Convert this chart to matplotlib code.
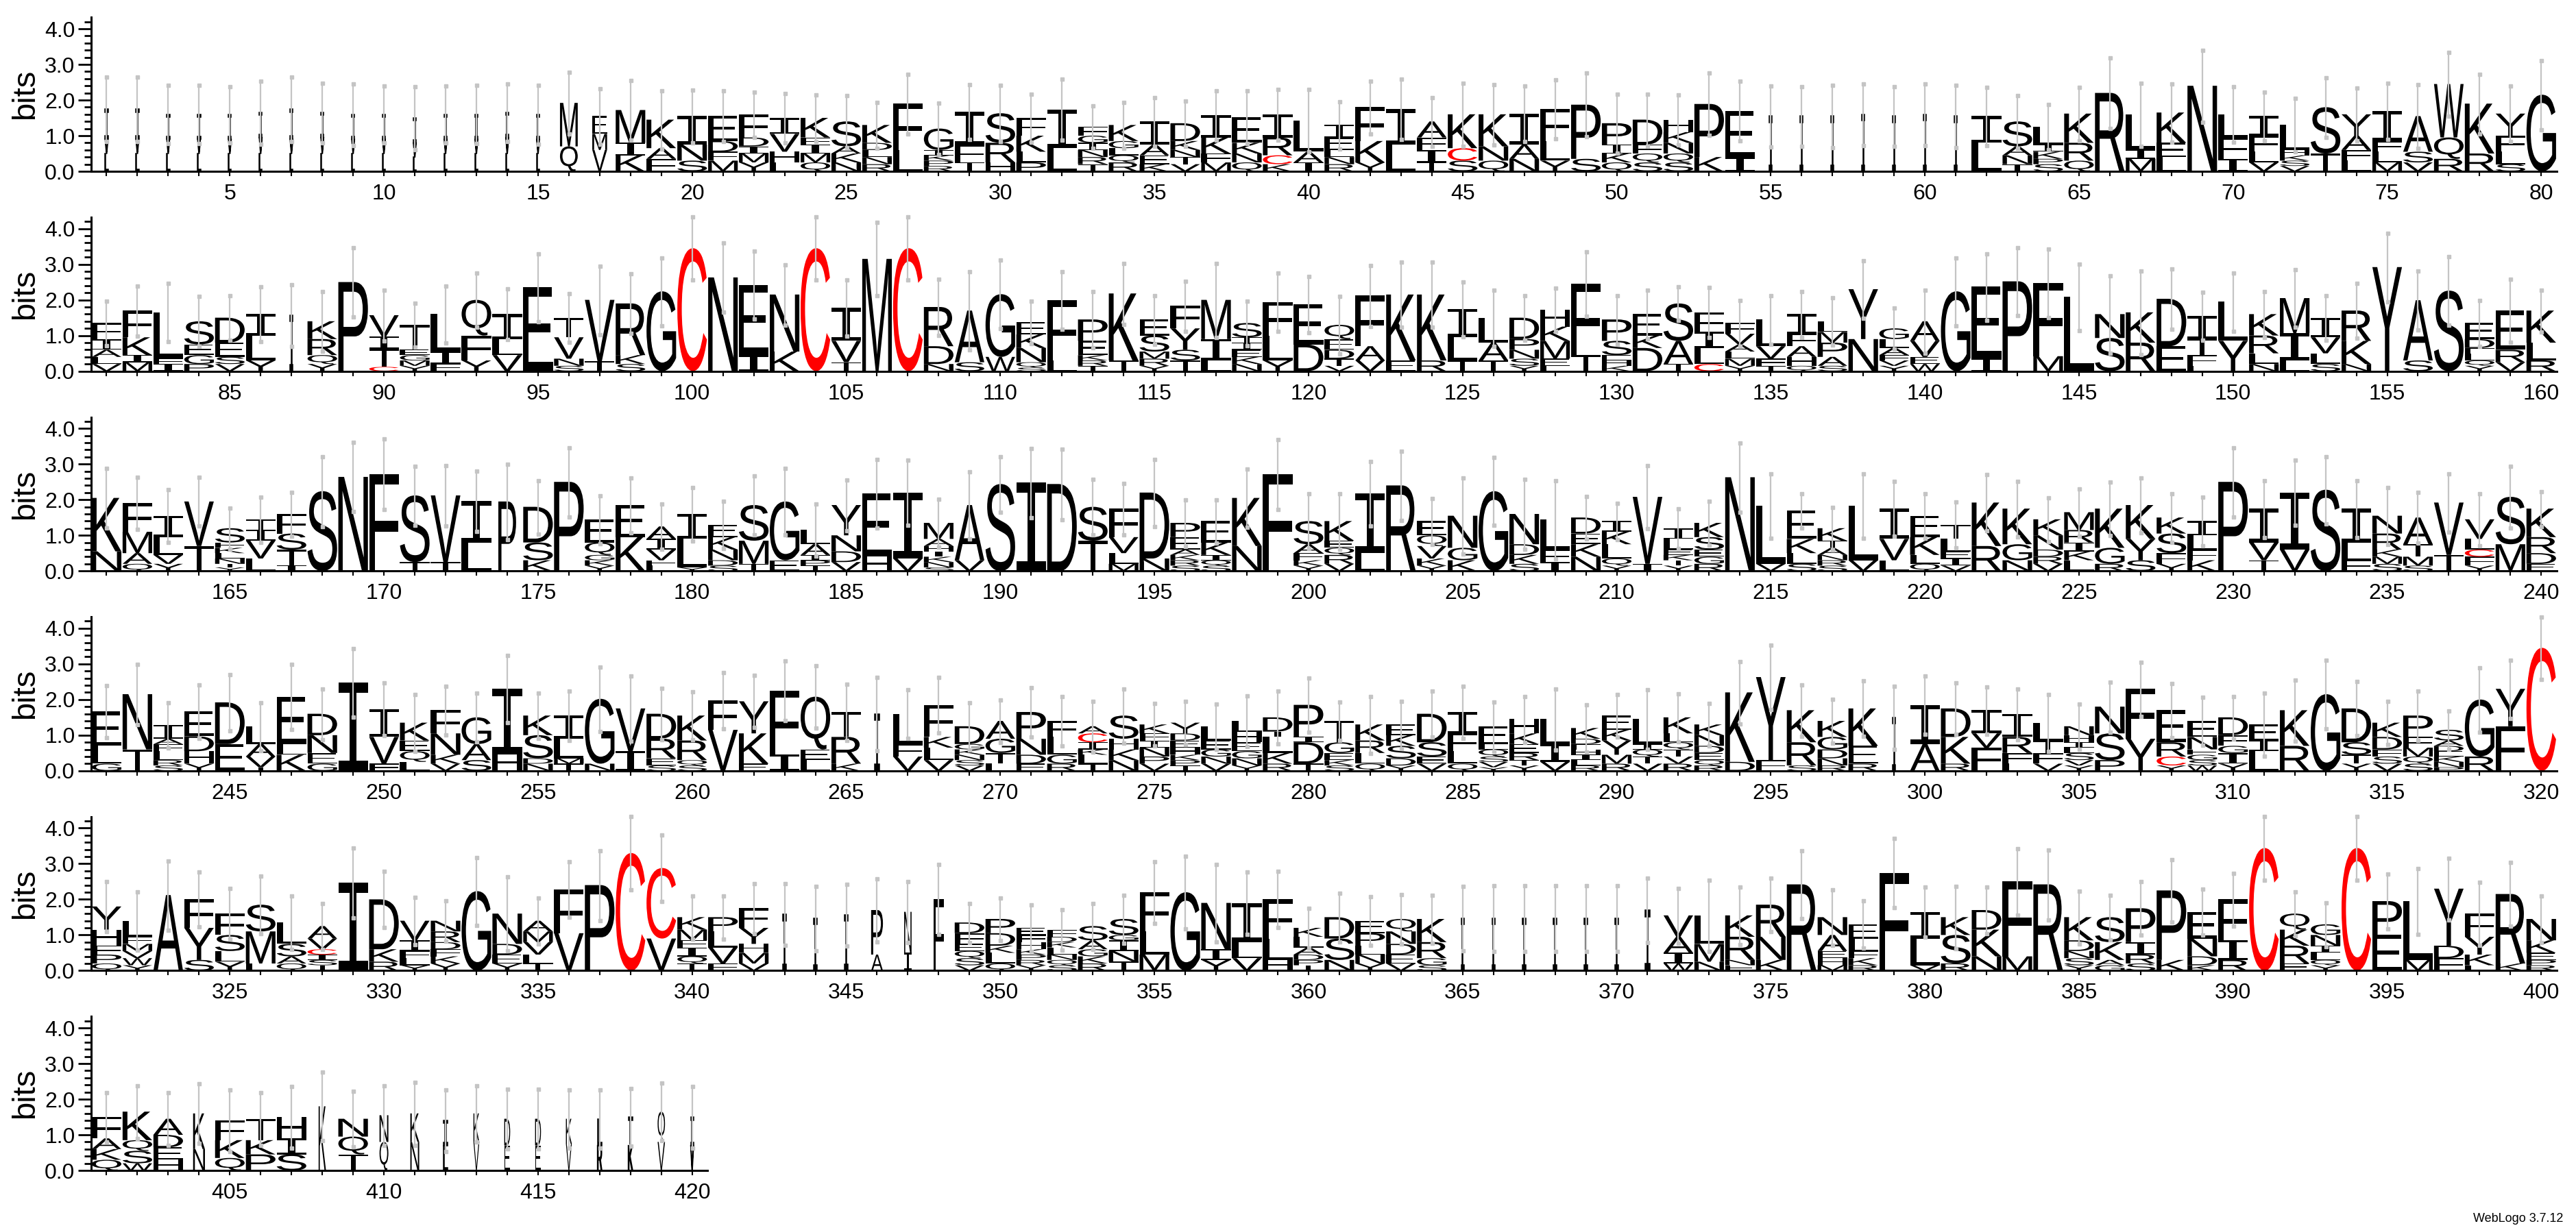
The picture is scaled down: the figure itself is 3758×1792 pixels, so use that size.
import matplotlib
matplotlib.use("Agg")
import matplotlib.pyplot as plt
import numpy as np
from matplotlib.textpath import TextPath
from matplotlib.font_manager import FontProperties
from matplotlib.path import Path
from matplotlib.patches import PathPatch

# Each stack: letters from bottom to top, letter followed by its height in bits
row1 = [
    "L.5 V.4 I.85", "L.5 V.4 I.85", "L.5 V.4 I.7", "L.5 V.4 I.7", "L.5 V.4 I.7",
    "L.5 V.45 I.7", "L.5 V.4 I.85", "L.5 V.45 I.7", "L.5 V.4 I.7", "L.5 V.4 I.7",
    "L.4 V.4 I.7", "L.5 V.4 I.7", "L.5 V.4 I.7", "L.5 V.45 I.7", "L.5 V.4 I.7",
    "Q.7 M1.22", "V.6 M.45 E.5", "K.45 I.35 M.92", "F.35 A.3 K.8", "S.3 N.45 I.8",
    "M.3 F.25 D.3 E.7", "Y.25 M.25 I.2 D.25 F.65", "L.25 H.3 V.5 I.45", "Q.25 M.25 I.25 F.2 K.55", "N.25 K.25 A.2 S.7",
    "R.2 N.2 L.2 D.2 K.5", "L.6 F1.3", "R.15 P.15 K.15 I.15 G.6", "T.25 F.5 I.92", "H.25 R.55 S.83",
    "P.25 L.3 K.45 F.5", "L.65 I1.09", "T.2 R.2 N.2 I.2 G.2 F.25", "R.25 Q.2 L.2 G.2 K.45", "K.2 E.25 A.3 I.65",
    "V.2 T.2 N.2 K.25 D.5", "M.25 F.25 K.45 I.63", "Q.25 N.25 K.3 E.72", "K.2 C.25 R.5 I.65", "I.25 A.3 L.88",
    "R.2 N.2 L.2 E.35 I.35", "Y.25 K.6 F.95", "L.75 I1.0", "T.25 I.35 F.35 A.45", "S.3 C.35 K.95",
    "Q.3 N.4 K.9", "N.35 A.4 I.87", "Y.3 L.55 F.9", "S.35 P1.52", "Q.25 K.25 I.25 P.6",
    "S.25 Q.25 F.25 D.7", "S.25 Q.25 N.3 K.3 H.35", "K.4 P1.49", "I.4 E1.3", "I1.55",
    "I1.55", "I1.55", "I1.6", "I1.55", "I1.6",
    "I1.55", "L.8 I.75", "T.2 N.25 A.25 S.7", "S.2 P.15 K.2 I.2 L.5", "Q.3 R.5 K.82",
    "R2.2", "M.35 I.25 L1.0", "L.4 E.4 K.85", "N2.4", "I.35 F.6 L.65",
    "V.25 L.3 F.45 I.55", "V.15 S.15 K.15 H.15 L.7", "T.5 S1.3", "L.3 F.3 A.4 Y.6", "M.25 L.3 F.3 I.85",
    "V.25 S.3 A1.0", "R.35 Q.6 W1.5", "R.5 K1.4", "S.2 L.35 F.45 Y.62", "G2.15",
]
row2 = [
    "V.2 L.2 A.2 I.3 F.45", "M.25 I.2 K.5 F.75", "I.2 F.15 L1.3", "P.2 G.25 E.3 S.65", "V.2 S.2 E.4 D.7",
    "Y.3 L.7 I.6", "I1.57", "Y.2 Q.25 R.45 K.5", "P2.5", "C.12 T.5 I.35 V.6",
    "Y.15 M.15 G.15 E.15 T.7", "F.2 I.35 L1.05", "Y.3 F.7 Q1.0", "V.45 L.45 I.7", "E2.35",
    "S.15 N.2 V.6 T.55", "T.28 V1.72", "S.2 K.25 R1.45", "G2.24", "C3.45",
    "N2.63", "I.45 E1.97", "K.55 N1.6", "C3.45", "T.25 V.6 I.93",
    "M3.15", "C3.45", "N.2 D.5 R1.1", "S.25 A1.45", "W.4 G1.76",
    "S.1 Q.15 N.4 K.38 E.35", "L.3 F1.69", "T.15 R.15 K.15 E.4 P.6", "T.3 K1.88", "Y.15 R.2 M.2 S.45 E.45",
    "T.3 S.3 Y.6 F.63", "L.3 I.6 M1.1", "N.2 K.2 E.2 I.2 T.15 S.4", "Y.3 L.7 F.94", "D.75 E1.13",
    "V.15 T.2 D.25 E.3 Q.4", "V.3 A.4 F1.42", "E.3 K1.85", "R.3 K1.85", "T.3 L.65 I.8",
    "T.3 A.5 L.7", "Y.15 S.2 N.25 P.3 D.6", "L.15 E.2 M.5 K.4 H.48", "T.45 F2.0", "K.15 H.15 E.15 S.4 P.6",
    "D.65 K.35 E.6", "T.2 A.65 S1.05", "C.2 L.45 I.45 F.55", "Y.15 M.2 L.2 A.2 V.3 F.3", "T.15 F.2 V.35 L.75",
    "Q.15 H.25 A.3 F.35 I.55", "S.15 A.25 P.4 M.3 L.3", "N.9 Y1.4", "Y.15 V.15 F.15 A.2 L.25 G.3", "W.2 E.2 V.45 A.55",
    "G2.24", "I.35 E2.02", "P2.52", "M.42 F2.06", "L2.08",
    "S.93 N.67", "R.8 K.85", "E.7 D1.33", "L.15 F.3 T.45 I.65", "Y.85 L1.1",
    "N.2 L.3 R.5 K.6", "L.3 I.77 M.98", "S.2 L.3 V.45 I.55", "N.2 K.65 R.85", "Y2.92",
    "S.3 A1.69", "S2.26", "Y.15 Q.15 L.2 F.15 D.25 E.45", "V.25 R.35 E1.1", "R.3 L.5 K.9",
]
row3 = [
    "N.55 K1.5", "Q.2 A.3 M.6 F.8", "Y.2 V.25 L.5 I.6", "T.7 V1.25", "Y.1 T.1 N.15 L.15 K.15 F.15 S.4",
    "L.35 V.5 I.3 T.3", "I.15 T.45 S.45 F.55", "S2.24", "N2.64", "F2.72",
    "T.25 S1.87", "T.25 V1.87", "L.8 I1.17", "P1.95", "K.3 S.5 D1.0",
    "P2.5", "Y.15 K.15 G.15 Q.35 E.65", "K.95 E.9", "L.15 F.15 V.3 I.3 A.35", "Y.1 L.8 I.7",
    "S.15 D.15 N.3 K.35 E.35", "T.2 M.65 S1.0", "E.3 G1.65", "T.15 P.15 I.15 A.3 L.4", "V.25 D.3 N.45 Y.85",
    "H.4 E1.78", "V.35 I1.85", "S.1 N.15 K.15 I.15 H.15 A.2 M.45", "V.3 A1.55", "S2.44",
    "I2.48", "D2.44", "T.85 S.95", "M.2 L.3 V.45 F.8", "N.35 D1.85",
    "S.15 R.15 K.15 A.15 E.35 P.4", "S.15 Q.15 I.15 K.35 E.6", "N.7 K1.35", "F2.72", "Y.15 K.15 F.2 A.25 S.65",
    "V.2 R.25 Q.2 E.2 K.55", "L.5 I1.68", "R2.4", "Y.15 K.2 V.35 Q.3 E.4", "K.3 G.35 N.9",
    "G2.24", "S.2 K.25 D.3 N.85", "I.25 F.35 L.85", "N.4 K.35 E.3 D.45", "Y.15 Q.2 L.4 K.35 I.3",
    "I.2 V1.88", "Y.15 T.15 K.15 E.15 L.3 I.3", "R.2 G.2 E.2 S.35 K.4", "N2.63", "V.2 L1.63",
    "S.2 L.3 K.4 E.8", "S.15 R.15 N.15 A.2 T.2 K.35", "V.3 L1.53", "L.3 V.6 I.85", "Q.2 L.25 K.5 E.6",
    "V.15 I.2 E.2 L.35 T.4", "R.7 K1.22", "N.3 G.45 K1.0", "V.2 R.2 D.2 N.4 K.45", "L.3 K.25 I.25 R.35 M.5",
    "R.2 G.45 K1.1", "S.3 Y.6 K.95", "Y.2 F.3 S.55 K.45", "K.3 F.3 L.4 I.4", "P2.5",
    "T.3 V.5 I.95", "V.6 I1.6", "S2.28", "F.3 L.5 I.95", "S.2 M.2 K.2 R.45 N.5",
    "S.15 M.25 T.35 A.75", "T.45 V1.47", "Y.15 F.25 C.2 L.3 V.55", "M.75 S1.33", "E.2 D.3 R.45 K.8",
]
row4 = [
    "G.2 L.5 E.97", "T.6 N1.55", "S.15 R.15 L.25 F.2 A.15 I.38", "Y.2 H.35 D.42 E.7", "E.75 D1.17",
    "T.1 V.3 A.35 L.5", "K.45 L.3 E1.33", "G.2 E.3 N.5 D.6", "I2.48", "F.2 V.75 I.78",
    "L.25 Q.3 E.3 K.5", "V.2 K.25 N.6 F.65", "S.3 A.45 G.75", "H.45 I1.85", "N.2 D.15 S.65 K.55",
    "T.2 M.15 L.55 I.65", "N.2 G1.82", "I.55 V1.2", "S.15 E.2 R.55 D.7", "S.15 Q.15 R.55 K.7",
    "V1.15 F.82", "E.2 K.85 Y.9", "I.45 F1.8", "L.3 E.3 Q1.48", "K.2 R.75 T.7",
    "I1.6", "V.4 F.35 L.85", "V.3 L.35 K.3 F.9", "V.15 S.15 N.15 K.15 G.15 D.5", "L.2 T.3 G.4 A.5",
    "E.2 D.25 N.45 P.75", "R.2 G.25 L.5 F.45", "T.2 L.25 K.15 I.2 C.25 A.2", "N.3 K.3 H.3 S.65", "V.2 P.2 N.25 I.2 F.2 K.25",
    "T.15 P.15 K.15 H.2 E.2 D.2 Y.3", "V.2 N.2 G.2 E.25 L.4", "Y.15 N.2 G.2 E.25 H.3 L.3", "R.2 K.3 L.45 I.15 D.4", "T.2 D.6 I.15 P.9",
    "S.15 K.15 E.2 G.3 T.6", "Q.2 L.3 R.35 K.45", "Y.15 D.2 S.35 K.3 E.3", "V.2 E.2 S.4 D.8", "Q.2 L.35 F.5 I.6",
    "Y.1 V.15 S.15 Q.2 L.15 E.5", "Y.15 T.15 R.2 E.25 K.3 H.4", "V.25 I.5 L.7", "R.15 L.15 I.15 H.15 F.15 D.15 K.3", "R.2 M.25 Y.4 K.3 E.4",
    "V.2 T.2 Q.2 I.15 L.7", "R.2 V.2 T.2 Q.2 L.25 K.45", "R.15 Q.15 E.2 D.2 N.3 K.3", "D.25 K1.95", "F.3 Y2.33",
    "S.15 R.65 K.9", "R.15 N.2 D.25 G.35 K.45", "R.2 E.5 K1.05", "I1.5", "A.75 I1.1",
    "R.2 K.75 D.8", "F.65 V.4 I.65", "L.2 F.3 R.45 I.65", "V.2 F.3 T.35 L.5", "Y.15 V.15 S.2 L.15 I.15 H.2 N.25",
    "P.3 S.75 N.75", "Y.9 F1.4", "Y.15 C.25 R.4 E.9", "W.15 S.15 G.15 F.15 N.35 E.45", "Y.2 I.3 G.2 F.3 D.5",
    "L.55 I.3 E.45", "R.7 K1.0", "G2.15", "Y.2 T.25 S.35 D.95", "V.2 S.2 F.2 D.35 K.4",
    "S.2 Q.2 M.25 F.3 P.6", "P.1 N.15 K.15 E.15 D.15 A.15 S.3", "R.4 G1.6", "F1.25 Y1.05", "C3.45",
]
row5 = [
    "Q.2 P.25 F.25 H.45 Y.65", "Y.15 W.2 V.2 M.2 F.2 L.45", "A2.12", "S.3 Y.9 F.8", "Y.25 L.3 S.45 F.6",
    "L.2 M.9 S.75", "Q.2 A.2 S.35 L.6", "T.15 S.15 I.15 C.15 V.3 A.35", "I2.47", "R.25 K.35 D1.4",
    "Y.15 L.2 F.2 I.3 V.55", "Y.2 K.2 F.2 D.2 R.3 N.3", "G2.23", "Y.2 E.25 D.3 N.85", "T.2 L.25 V.35 M.3 A.3",
    "V1.05 F1.23", "P2.4", "C3.3", "V.9 C1.98", "T.2 Q.2 I.25 F.2 M.3 K.35",
    "F.2 V.45 L.45 P.4", "V.2 M.3 H.25 Y.45 F.55", "I1.58", "I1.47", "I1.57",
    "A.45 P1.25", "I.5 N1.15", "F2.0", "V.15 S.2 Q.2 E.2 F.3 D.3", "Q.2 L.3 K.2 D.35 P.4",
    "Y.15 R.15 P.15 K.15 H.2 F.2 E.2", "S.15 Q.15 N.15 L.2 K.15 D.15 F.2", "R.2 K.2 G.2 A.25 S.4", "T.25 N.3 I.3 G.15 S.45", "M.45 L.65 F1.1",
    "G2.2", "Y.3 I.3 N1.3", "V.35 L.45 I1.1", "H.3 L.6 F1.1", "T.15 P.15 D.15 A.2 L.3 K.25",
    "N.3 S.6 D.6", "Y.2 N.25 L.25 P.35 E.35", "V.2 E.25 D.3 N.35 Q.35", "S.15 G.2 R.45 K.65", "I1.47",
    "I1.47", "I1.47", "I1.47", "I1.47", "I1.47",
    "I1.7", "W.2 I.3 A.45 V.6", "N.25 M.5 L.8", "E.15 N.15 R.65 K.6", "K.3 N.65 R.9",
    "R2.42", "M.15 H.2 E.2 A.45 N.5", "R.15 K.2 F.2 L.35 E.4", "F2.74", "V.15 L.75 I.75",
    "R.2 S.8 K.5", "N.4 K.75 D.55", "M.4 F2.1", "R2.42", "Y.15 S.2 N.2 D.3 K.65",
    "G.15 A.15 K.5 S.7", "S.2 R.25 I.35 P.95", "K.3 P1.95", "K.15 D.25 N.5 E.75", "R.3 I.55 F1.15",
    "C3.44", "E.2 R.5 K.45 Q.45", "Y.15 Q.15 L.2 I.2 N.3 G.3", "C3.44", "E1.0 P.95",
    "M.3 L1.65", "F.35 D.35 Y1.6", "L.15 K.3 Y.5 F.65", "K.2 R1.95", "R.15 P.15 E.2 K.35 N.6",
]
row6 = [
    "Q.3 K.3 A.3 F.6", "W.2 S.35 Q.3 K.8", "H.3 E.35 D.35 A.45", "N.6 K1.0", "Q.35 K.5 F.55",
    "P.45 K.4 T.6", "S.45 I.45 H.6", "K1.8", "T.45 Q.5 N.5", "Q.8 N.75",
    "N.8 K.8", "L.7 I.7", "V.8 K.8", "E.7 D.75", "E.7 D.75",
    "V.75 K.7", "R.7 L.75", "K.7 T.8", "V.8 Q.85", "V.7 I.8",
]

# upper end of each error bar (bits)
err1 = [2.65, 2.65, 2.42, 2.42, 2.39, 2.54, 2.65, 2.49, 2.46, 2.40, 2.38, 2.40, 2.42, 2.46, 2.43,
        2.78, 2.33, 2.56, 2.26, 2.29, 2.26, 2.24, 2.2, 2.16, 2.13, 1.94, 2.74, 1.92, 2.44, 2.42,
        2.17, 2.6, 1.85, 1.95, 2.08, 1.99, 2.27, 2.26, 2.31, 2.31, 1.97, 2.54, 2.6, 2.08, 2.48,
        2.45, 2.4, 2.58, 2.76, 2.18, 2.18, 2.15, 2.77, 2.54, 2.4, 2.38, 2.43, 2.46, 2.39, 2.46,
        2.42, 2.37, 2.14, 1.88, 2.37, 3.19, 2.49, 2.47, 3.41, 2.38, 2.24, 2.05, 2.64, 2.34, 2.49,
        2.44, 3.35, 2.74, 2.4, 3.12]
err2 = [1.98, 2.4, 2.47, 2.1, 2.13, 2.37, 2.44, 2.24, 3.47, 2.28, 1.91, 2.4, 2.76, 2.31, 3.3,
        2.18, 2.96, 2.74, 3.19, 4.34, 3.6, 3.37, 3.0, 4.34, 2.56, 4.18, 4.34, 2.58, 2.8, 3.12,
        1.98, 2.8, 2.24, 3.04, 2.13, 2.54, 3.04, 1.98, 2.76, 2.67, 2.1, 2.97, 3.06, 3.06, 2.52,
        2.29, 2.13, 2.33, 3.35, 2.13, 2.29, 2.37, 2.35, 2.0, 2.13, 2.24, 2.06, 3.1, 1.78, 2.29,
        3.19, 3.3, 3.47, 3.44, 3.01, 2.69, 2.82, 2.87, 2.22, 2.77, 2.24, 2.85, 2.13, 2.47, 3.88,
        2.81, 3.22, 2.0, 2.58, 2.29]
err3 = [2.88, 2.63, 2.29, 2.63, 1.78, 2.08, 2.21, 3.22, 3.61, 3.71, 2.94, 2.97, 2.82, 3.01, 2.55,
        3.47, 2.12, 2.61, 1.89, 2.35, 1.96, 2.67, 2.88, 1.88, 2.56, 3.14, 3.11, 2.03, 2.8, 3.22,
        3.45, 3.43, 2.58, 2.47, 3.14, 2.0, 2.0, 2.87, 3.7, 2.17, 2.18, 3.08, 3.37, 2.04, 2.61,
        3.19, 2.58, 2.55, 2.1, 1.91, 2.97, 1.76, 1.96, 3.6, 2.74, 2.18, 1.8, 2.74, 2.52, 2.18,
        1.94, 2.71, 2.53, 2.07, 2.32, 2.5, 2.61, 2.18, 2.08, 3.47, 2.55, 3.11, 3.22, 2.55, 2.35,
        2.21, 2.74, 2.18, 2.94, 2.24]
err4 = [2.4, 2.99, 1.91, 2.42, 2.7, 1.92, 3.0, 2.31, 3.44, 2.47, 2.15, 2.38, 2.18, 3.24, 2.18,
        2.24, 2.92, 2.66, 2.32, 2.22, 2.76, 2.68, 3.09, 2.96, 2.44, 2.63, 2.28, 2.63, 1.91, 1.99,
        2.35, 2.1, 1.96, 2.31, 1.9, 1.96, 1.89, 2.12, 2.24, 2.61, 1.94, 2.1, 1.96, 2.24, 2.38,
        1.94, 2.1, 2.31, 1.86, 2.15, 2.28, 2.17, 1.9, 3.08, 3.54, 2.42, 2.02, 2.53, 2.39, 2.66,
        2.47, 2.37, 2.31, 2.15, 1.89, 2.5, 3.06, 2.46, 2.08, 2.1, 2.18, 2.55, 3.11, 2.51, 1.96,
        2.24, 1.68, 2.9, 3.12, 4.33]
err5 = [2.5, 2.22, 3.09, 2.77, 2.31, 2.66, 2.1, 1.9, 3.45, 2.79, 2.07, 1.97, 3.19, 2.64, 2.05,
        3.06, 3.38, 4.33, 3.81, 2.1, 2.1, 2.45, 2.45, 2.38, 2.44, 2.58, 2.5, 2.98, 1.9, 2.05,
        1.85, 1.71, 1.89, 2.13, 3.06, 3.21, 2.99, 2.78, 2.79, 1.76, 2.19, 2.08, 2.15, 2.13, 2.38,
        2.4, 2.4, 2.4, 2.4, 2.4, 2.61, 2.32, 2.55, 2.36, 2.6, 3.38, 2.28, 1.96, 3.71, 2.35,
        2.38, 2.36, 3.43, 3.4, 2.24, 2.13, 2.5, 3.12, 2.3, 2.74, 4.33, 2.21, 1.92, 4.33, 2.72,
        2.88, 3.17, 2.48, 3.04, 2.1]
err6 = [2.19, 2.39, 2.19, 2.44, 2.26, 2.19, 2.36, 2.76, 2.23, 2.39,
        2.49, 2.26, 2.39, 2.28, 2.28, 2.26, 2.26, 2.31, 2.46, 2.37]

# columns drawn narrower (mostly gaps in the alignment): position -> width fraction
col_width = {p: 0.1 for p in range(1, 16)}
col_width.update({16: 0.6, 17: 0.5, 87: 0.1, 174: 0.6, 266: 0.15, 299: 0.1,
                  343: 0.1, 344: 0.1, 345: 0.1, 346: 0.4, 347: 0.25, 348: 0.35, 371: 0.15,
                  404: 0.4, 408: 0.25, 410: 0.3, 411: 0.3, 412: 0.15, 413: 0.2, 414: 0.2,
                  415: 0.2, 416: 0.2, 417: 0.15, 418: 0.15, 419: 0.25, 420: 0.1})
col_width.update({p: 0.1 for p in range(55, 62)})
col_width.update({p: 0.1 for p in range(365, 371)})

stacks = row1 + row2 + row3 + row4 + row5 + row6
err_hi = err1 + err2 + err3 + err4 + err5 + err6
assert len(stacks) == 420 and len(err_hi) == 420

plt.rcParams['font.family'] = ['Liberation Sans', 'DejaVu Sans']

W, H = 3758, 1792
fig = plt.figure(figsize=(W / 100, H / 100), dpi=100)

sans = FontProperties(family='Liberation Sans')
serif_i = FontProperties(family='DejaVu Sans Mono')
_cache = {}


def glyph(ch):
    if ch not in _cache:
        tp = TextPath((0, 0), ch, size=1, prop=serif_i if ch == 'I' else sans)
        _cache[ch] = (tp.vertices.copy(), tp.codes, tp.get_extents())
    return _cache[ch]


def draw_letter(ax, ch, xc, y0, w, h, edge=0.0):
    verts, codes, ext = glyph(ch)
    v = np.empty_like(verts)
    v[:, 0] = xc - w / 2 + (verts[:, 0] - ext.x0) / ext.width * w
    v[:, 1] = y0 + (verts[:, 1] - ext.y0) / ext.height * h
    color = '#ff0000' if ch == 'C' else 'black'
    ax.add_patch(PathPatch(Path(v, codes), facecolor=color,
                           edgecolor=color if edge else 'none', lw=edge, zorder=2))


pos_w = 44.96
x_left = 133.0
ymax = 4.32
px_per_bit = 52.0
err_color = '#c4c4c4'

for r in range(6):
    start = r * 80 + 1
    n = 80 if r < 5 else 20
    baseline = 250 + r * 291.6
    ax = fig.add_axes([x_left / W, (H - baseline) / H, n * pos_w / W, ymax * px_per_bit / H])
    ax.set_xlim(start - 0.5, start + n - 0.5)
    ax.set_ylim(0, ymax)

    for p in range(start, start + n):
        items = [(t[0], float(t[1:])) for t in stacks[p - 1].split()]
        frac = col_width.get(p, 1.0)
        w = 0.96 * frac
        edge = 1.1 if frac <= 0.15 else 0.0
        y = 0.0
        for ch, h in items:
            draw_letter(ax, ch, p, y, w, h, edge)
            y += h
        hi = err_hi[p - 1]
        lo = 2 * y - hi
        ax.plot([p, p], [lo, hi], color=err_color, lw=1.6, zorder=3, clip_on=False,
                solid_capstyle='butt')
        ax.plot([p, p], [lo, hi], ls='none', marker='s', ms=3.6, color=err_color,
                zorder=3, clip_on=False)

    for s in ['top', 'right']:
        ax.spines[s].set_visible(False)
    ax.spines['left'].set_linewidth(2.2)
    ax.spines['bottom'].set_linewidth(2.2)
    ax.spines['bottom'].set_zorder(4)

    ticks = list(range(start, start + n))
    ax.set_xticks(ticks)
    ax.set_xticklabels([str(p) if p % 5 == 0 else '' for p in ticks])
    ax.tick_params(axis='x', length=5, width=1.5, pad=8, labelsize=23)
    ax.set_yticks([0, 1, 2, 3, 4])
    ax.set_yticklabels(['0.0', '1.0', '2.0', '3.0', '4.0'])
    ax.set_yticks(np.arange(0.2, 4.3, 0.2), minor=True)
    ax.tick_params(axis='y', which='major', length=14, width=2, pad=3, labelsize=23)
    ax.tick_params(axis='y', which='minor', length=7, width=2)

    fig.text(37 / W, (H - baseline + ymax * px_per_bit / 2) / H, 'bits', rotation=90,
             ha='center', va='center', fontsize=34)

fig.text(3739 / W, (H - 1783) / H, 'WebLogo 3.7.12', ha='right', va='baseline', fontsize=13)

fig.savefig('out.png', dpi=100)
